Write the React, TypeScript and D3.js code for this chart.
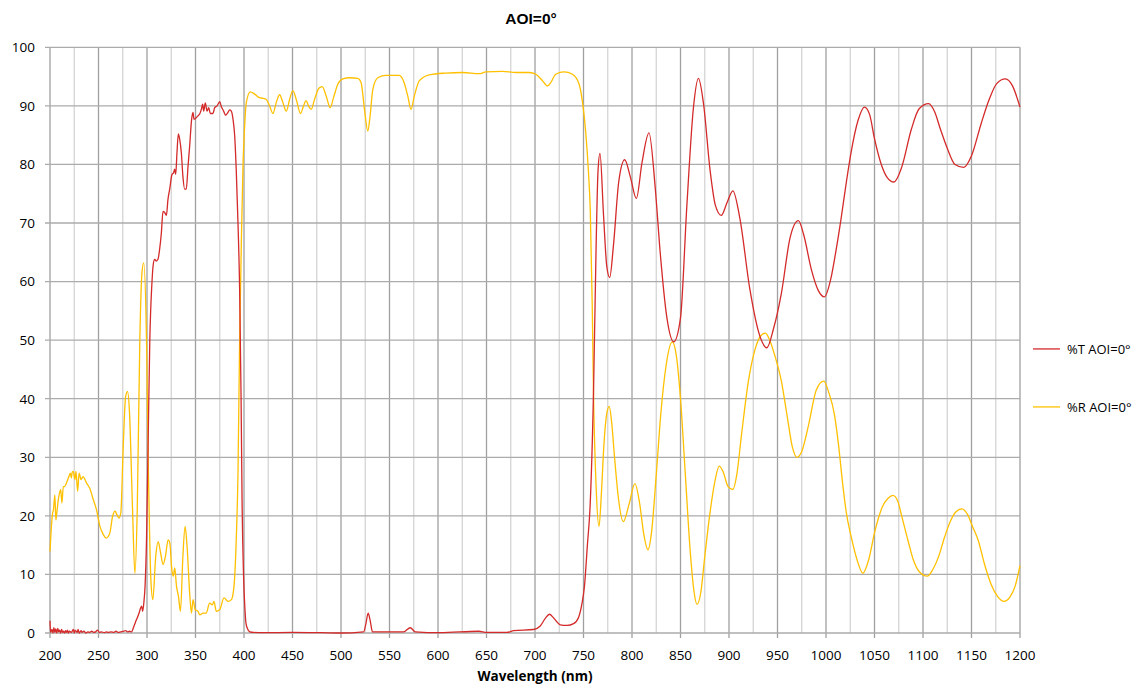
import React from "react";
import * as d3 from "d3";

const chartTitle = "AOI=0°";
const xAxisTitle = "Wavelength (nm)";
const seriesNames = ["%T AOI=0°", "%R AOI=0°"];
const seriesColors = ["#d42a2a", "#ffc000"];

const xTicks = d3.range(200, 1201, 50);
const xMinorTicks = d3.range(225, 1200, 50);
const yTicks = d3.range(0, 101, 10);

const tWavelength = [
  200, 200.5, 202, 203, 204, 205, 206, 207, 208, 209, 210, 211, 212, 213, 214, 215, 216, 217, 218, 219, 220, 222, 224, 225, 226, 228, 229, 230, 232, 233, 235, 237, 239, 241, 243, 245, 247, 249, 251, 253, 256, 258, 260, 263, 266, 268, 270, 273, 276, 278, 280, 282, 284, 286, 288, 290, 292, 293.5, 294.5, 295.5, 296.7, 298, 299.5, 301.2, 302.9, 305, 306.5, 307.9, 309.6, 311.3, 313, 314.8, 316.5, 318.2, 320, 321.6, 323.4, 325.8, 327.5, 328.5, 329.6, 330.9, 332.3, 333.7, 335.4, 337, 338.8, 340.5, 342.3, 344, 346, 347.4, 348.5, 350.9, 352.6, 354.3, 356, 357.4, 358.4, 360.1, 361.9, 363.6, 365.3, 368, 369.8, 372.2, 375, 376.6, 379, 381, 383.5, 385.2, 386.9, 388.7, 390.4, 392.1, 393.8, 395.5, 397, 398, 399.5, 401, 402, 404, 406, 410, 420, 450, 480, 499, 523.3, 525.7, 528, 530, 532.5, 564.5, 571.4, 576.5, 602, 642, 650.4, 671, 678, 698.5, 705.4, 710.6, 715, 719, 726, 733, 739.8, 745, 748.4, 751, 754, 756.9, 760.3, 763, 765, 767, 770.6, 774, 777, 781, 786.3, 792.5, 798.4, 804.5, 810.3, 817.5, 824, 829, 836, 843, 850, 856.5, 863.4, 868.5, 873.7, 880.5, 886, 892, 898, 904, 911.2, 921.5, 932, 939, 945.8, 954, 963, 971.6, 977, 985, 992, 998.4, 1005, 1010, 1015.6, 1021, 1026, 1033, 1039.7, 1045, 1050, 1057, 1063, 1070, 1078, 1088, 1096, 1105.8, 1112, 1118, 1124.7, 1133, 1142, 1150, 1160, 1168, 1176, 1185, 1192, 1200,
];
const tValue = [
  2.1, 0.1, 0.6, 0, 0.9, 0.1, 0.7, 0, 0.8, 0.2, 0.5, 0, 0.6, 0.1, 0.3, 0, 0.4, 0.1, 0.5, 0, 0.3, 0.1, 0.6, 0, 0.5, 0.1, 0.6, 0, 0.4, 0.1, 0.3, 0, 0.2, 0.1, 0.3, 0.1, 0.2, 0.5, 0.1, 0.2, 0.05, 0.2, 0.1, 0.2, 0.1, 0.3, 0.1, 0.2, 0.3, 0.4, 0.2, 0.3, 0.2, 0.9, 1.8, 2.6, 3.5, 4.3, 4.6, 3.7, 5.1, 8, 15.9, 33, 50, 59.5, 63, 63.8, 63.5, 63.8, 65.5, 68.3, 72, 71.8, 71.3, 74, 75.8, 78.3, 78.6, 79.2, 78.3, 82, 85.2, 84.3, 82, 78, 75.8, 75.8, 79.7, 83.2, 87.7, 88.9, 87.7, 88, 88.3, 88.6, 89.4, 90.3, 89.1, 90.5, 89.1, 89.7, 88.7, 88.7, 89.7, 90, 90.7, 89.9, 89.1, 88.4, 88.9, 89.3, 89.1, 87.7, 84.9, 78.6, 70, 58.7, 40, 22.7, 10, 4, 1.7, 0.6, 0.2, 0.1, 0.05, 0.1, 0.05, 0, 0.2, 1.6, 3.4, 2.2, 0.2, 0.2, 0.9, 0.2, 0.05, 0.3, 0.1, 0.1, 0.4, 0.6, 1.2, 2.5, 3.2, 2.6, 1.4, 1.3, 1.6, 2.7, 5, 8, 15, 22, 41, 66, 79, 81.9, 71.5, 62.6, 60.7, 66.4, 77, 80.8, 77.8, 74.2, 80.3, 85.4, 75.9, 65.1, 53.8, 49.7, 53.8, 72.8, 89.8, 94.7, 90.4, 79, 73, 71.3, 73.5, 75.5, 70.8, 58.7, 50.6, 48.7, 51.9, 58, 67.5, 70.4, 68, 62, 58.5, 57.4, 60.5, 65, 70.8, 77, 82.2, 87.5, 89.8, 88.5, 84.4, 80, 77.8, 77, 79.5, 86, 89.5, 90.4, 89, 86, 82.9, 80, 79.5, 81.5, 87, 91, 93.8, 94.6, 93.5, 89.8,
];

const rWavelength = [
  200, 201, 202.7, 203.5, 205, 206, 207, 208.6, 210, 211, 212.3, 213.7, 215, 217, 219, 221, 222, 223, 224, 225.7, 226.8, 228.5, 230, 232, 234, 237.7, 241, 244.6, 248, 251.5, 255, 258, 261.7, 264.5, 267, 269, 271, 273, 275.5, 278, 280, 282, 285, 287.5, 290, 292.6, 294.8, 296.6, 299.5, 301.5, 304, 306, 309, 311.5, 314, 316.6, 319, 321.8, 323.5, 325.6, 327, 328.6, 330.4, 332.4, 334.5, 337, 339.3, 341.3, 344, 345.8, 347.5, 349.6, 352.6, 354.4, 357.8, 361, 364.6, 367.4, 369, 371.5, 375, 379.4, 383.5, 387, 389.7, 392, 393.8, 395.5, 397.3, 399, 400.5, 402.4, 406.5, 411, 416, 419.5, 423, 426.4, 429.8, 433.3, 436.7, 440, 443.6, 447, 450.4, 453.9, 458.3, 461.4, 464, 466.5, 469.3, 472.7, 477.2, 480.6, 484.7, 488.9, 492.3, 496.7, 501.9, 508.7, 517.3, 520.7, 524.2, 527.6, 530, 532.8, 537.9, 546.5, 560, 565, 568.8, 572.2, 575.6, 580.8, 591, 608, 625.4, 642.5, 649.4, 666.6, 680.3, 694, 700.9, 707.7, 712.9, 716.3, 721.4, 730, 738.6, 745.5, 749, 752.3, 755, 757, 759, 760.3, 763, 766, 768.5, 771, 774, 776.5, 779, 782, 786, 791, 797, 803, 808, 812, 816.5, 820, 825, 830, 835, 841.5, 846, 850, 855, 860, 864, 867, 871, 875, 880, 885, 890, 894, 899, 904, 908, 913, 920, 927, 933, 937.5, 942, 947, 954, 960, 965, 970, 975, 982, 990, 997.7, 1003, 1008.7, 1013, 1017.3, 1021, 1026, 1032, 1038, 1044, 1050, 1058, 1064, 1069, 1074, 1078, 1084.5, 1090, 1096, 1104.4, 1110, 1116, 1122.3, 1128, 1134, 1140, 1146, 1151, 1157, 1163, 1170.5, 1177, 1183.6, 1189, 1195, 1200,
];
const rValue = [
  13.9, 17, 20.5, 21, 23.6, 19.3, 20.5, 22.8, 24, 24.5, 22.2, 25, 25, 25.6, 26.5, 27.3, 26.5, 27.5, 27.6, 26.2, 27.6, 24.2, 27.3, 26.2, 26.7, 25.6, 24.7, 22.8, 21, 18.2, 16.8, 16.2, 17.1, 19.9, 20.8, 20.2, 19.6, 20.5, 31.9, 40.4, 41.2, 37.5, 21.6, 10.2, 21.6, 50, 61.5, 63.2, 50, 27.3, 9.1, 5.7, 13.1, 15.6, 13.7, 11.7, 13.1, 15.9, 15.4, 10.8, 9.7, 11.1, 8, 6.3, 3.7, 13.1, 18.2, 14.8, 6.8, 3.4, 5.7, 4, 3.7, 3.1, 3.4, 3.4, 5.1, 4.8, 5.4, 3.7, 4, 6, 5.4, 5.7, 8, 15.9, 27.3, 50, 67, 80, 86, 90.6, 92.4, 92, 91.4, 91.3, 91.1, 90, 88.7, 90.6, 91.9, 90.6, 89.1, 91.1, 92.6, 91.1, 88.7, 90, 90.9, 90, 89.4, 91.1, 93, 93.3, 91.7, 89.7, 91.4, 93.7, 94.6, 94.8, 94.7, 94, 89.4, 85.7, 88.3, 92.8, 94.8, 95.2, 95.2, 94, 91.7, 89.4, 91.7, 94.3, 95.3, 95.6, 95.7, 95.5, 95.8, 95.9, 95.7, 95.7, 95.4, 94.3, 93.4, 94, 95.4, 95.8, 95.4, 93.7, 90.6, 85.5, 79, 72, 56, 41, 25, 18.2, 24, 32, 37.5, 38.7, 36, 30, 23, 19, 22, 25.5, 22, 17, 14.2, 17, 27, 38, 45.5, 49.7, 47, 40, 27, 14, 7, 4.9, 7, 13, 20, 25.5, 28.5, 27.5, 25, 24.5, 27, 34, 43, 48.5, 50.8, 51.2, 50, 47.5, 43, 37, 32, 30, 31, 35.5, 41.5, 43, 41, 37.3, 32, 25.3, 20.5, 16.4, 12.5, 10.2, 12.5, 17.1, 21.5, 23, 23.5, 22.5, 20, 15.8, 12.5, 10.5, 9.7, 10.8, 13, 16.4, 19, 20.7, 21.2, 20.2, 18.2, 15.8, 12, 8.2, 6.2, 5.4, 6, 8, 11.5,
];

const W = 1139;
const H = 686;
const M = { left: 50, right: 1020, top: 47.3, bottom: 633 };
const FONT = "'Open Sans', 'Liberation Sans', Arial, sans-serif";

export default function App() {
  const x = d3.scaleLinear().domain([200, 1200]).range([M.left, M.right]);
  const y = d3.scaleLinear().domain([0, 100]).range([M.bottom, M.top]);

  const line = d3
    .line<[number, number]>()
    .x((d) => x(d[0]))
    .y((d) => y(d[1]))
    .curve(d3.curveMonotoneX);

  const tData = tWavelength.map((w, i) => [w, tValue[i]] as [number, number]);
  const rData = rWavelength.map((w, i) => [w, rValue[i]] as [number, number]);

  const legendY = [y(48.5), y(38.6)];

  return (
    <svg
      width={W}
      height={H}
      style={{ position: "absolute", left: 0, top: 0, display: "block", background: "#fff" }}
    >
      <rect x={0} y={0} width={W} height={H} fill="#fff" />
      {xMinorTicks.map((t) => (
        <line key={"mv" + t} x1={x(t)} x2={x(t)} y1={M.top} y2={M.bottom} stroke="#d4d4d4" strokeWidth={1.3} />
      ))}
      {xTicks.map((t) => (
        <line key={"v" + t} x1={x(t)} x2={x(t)} y1={M.top} y2={M.bottom + 5} stroke="#a0a0a0" strokeWidth={1.3} />
      ))}
      {yTicks.map((t) => (
        <line key={"h" + t} x1={M.left - 5} x2={M.right} y1={y(t)} y2={y(t)} stroke="#ababab" strokeWidth={1.3} />
      ))}

      <path d={line(rData) || ""} fill="none" stroke={seriesColors[1]} strokeWidth={1.3} strokeLinejoin="round" />
      <path d={line(tData) || ""} fill="none" stroke={seriesColors[0]} strokeWidth={1.3} strokeLinejoin="round" />

      {yTicks.map((t) => (
        <text key={"yl" + t} x={35} y={y(t)} dy="0.36em" textAnchor="end" fontFamily={FONT} fontSize={13.5} fill="#000">
          {t}
        </text>
      ))}
      {xTicks.map((t) => (
        <text key={"xl" + t} x={x(t)} y={660} textAnchor="middle" fontFamily={FONT} fontSize={13.5} fill="#000">
          {t}
        </text>
      ))}

      <text x={531} y={24} textAnchor="middle" fontFamily="'Liberation Sans', Arial, sans-serif" fontWeight="bold" fontSize={15.5} fill="#000">
        {chartTitle}
      </text>
      <text x={535} y={681} textAnchor="middle" fontFamily={FONT} fontWeight="bold" fontSize={13.5} fill="#000">
        {xAxisTitle}
      </text>

      {seriesNames.map((name, i) => (
        <g key={name}>
          <line x1={1033} x2={1060} y1={legendY[i]} y2={legendY[i]} stroke={seriesColors[i]} strokeWidth={1.3} />
          <text x={1067} y={legendY[i]} dy="0.36em" fontFamily={FONT} fontSize={13} fill="#000">
            {name}
          </text>
        </g>
      ))}
    </svg>
  );
}
